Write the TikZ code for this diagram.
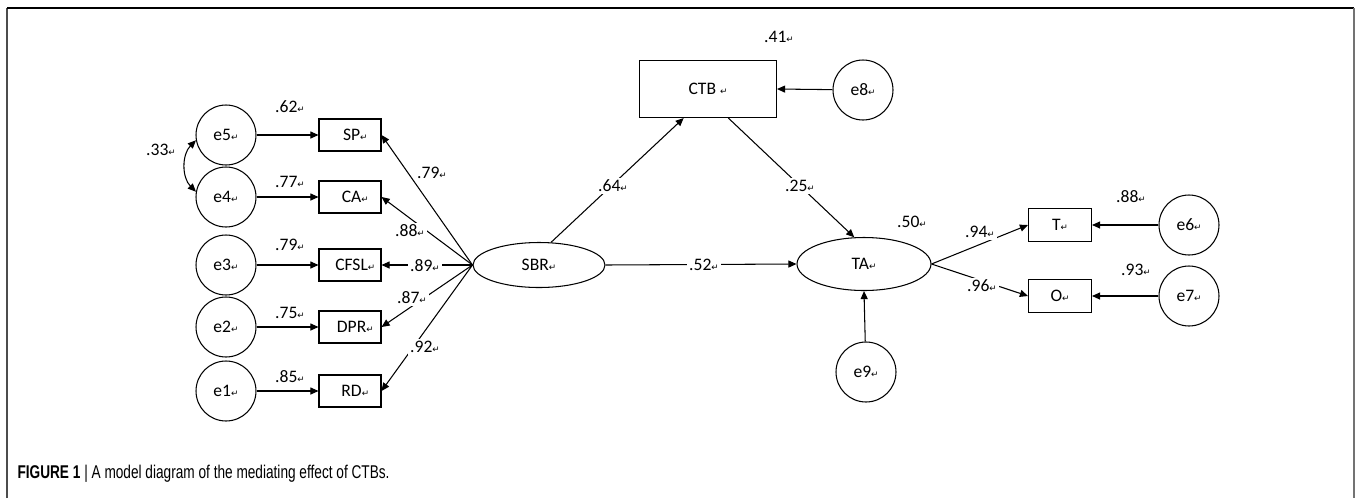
\documentclass[tikz,border=0pt]{standalone}
\usepackage{fontspec}
\setmainfont{Carlito}
\newfontfamily\retfont{DejaVu Sans}
\newfontfamily\capfont[FakeStretch=0.74]{Liberation Sans}
\usetikzlibrary{shapes.geometric, arrows.meta, positioning}
\newcommand{\ret}{{\retfont\fontsize{5}{6}\selectfont ↵}}

\begin{document}
\begin{tikzpicture}[
    x=0.02cm, y=-0.02cm,
    font=\fontsize{10}{12}\selectfont,
    line width=0.6pt,
    err/.style={circle, draw, minimum size=1.2cm, inner sep=0pt},
    obs/.style={rectangle, draw, minimum width=1.24cm, minimum height=0.64cm, inner sep=0pt},
    lat/.style={ellipse, draw, minimum width=2.64cm, minimum height=0.9cm, inner sep=0pt},
    coef/.style={fill=white, inner sep=1pt},
    arrow/.style={-{Triangle[length=4.6pt, width=4pt]}},
    both/.style={{Triangle[length=4.6pt, width=4pt]}-{Triangle[length=4.6pt, width=4pt]}}
]

\useasboundingbox (0,0) rectangle (1357,498);

% Frame
\draw[line width=0.6pt, black!70] (7,498) -- (7,8);
\draw[line width=0.9pt] (7,8) -- (1354,8);
\draw[line width=1.2pt, black!55] (1354,8) -- (1354,498);

% Error terms of indicators
\node[err] (e5) at (226,135) {e5\ret};
\node[err] (e4) at (226,197) {e4\ret};
\node[err] (e3) at (226,265) {e3\ret};
\node[err] (e2) at (226,327) {e2\ret};
\node[err] (e1) at (226,391) {e1\ret};

% Indicators of SBR
\node[obs] (sp) at (350,135) {\hspace{6pt}SP\ret};
\node[obs] (ca) at (350,197) {\hspace{6pt}CA\ret};
\node[obs] (cfsl) at (350,265) {\hspace{6pt}CFSL\ret};
\node[obs] (dpr) at (350,327) {\hspace{6pt}DPR\ret};
\node[obs] (rd) at (350,391) {\hspace{6pt}RD\ret};

% Latent variables
\node[lat] (sbr) at (539,265) {SBR\ret};
\node[lat, minimum width=2.68cm, minimum height=1.06cm] (ta) at (864,264) {TA\ret};
\node[obs, minimum width=2.74cm, minimum height=1.14cm] (ctb) at (708,89) {CTB \ret};

% Mediator and outcome errors
\node[err] (e8) at (863,90) {e8\ret};
\node[err] (e9) at (866,372) {e9\ret};

% Indicators of TA
\node[obs, minimum width=1.26cm, minimum height=0.66cm] (t) at (1060,225) {T\ret};
\node[obs, minimum width=1.26cm, minimum height=0.66cm] (o) at (1060,296) {O\ret};
\node[err] (e6) at (1189,225) {e6\ret};
\node[err] (e7) at (1189,296) {e7\ret};

% Arrows
\draw[arrow] (e5) -- (sp);
\draw[arrow] (e4) -- (ca);
\draw[arrow] (e3) -- (cfsl);
\draw[arrow] (e2) -- (dpr);
\draw[arrow] (e1) -- (rd);
\draw[both] (e5.190) to[bend right=45] (e4.170);

\draw[arrow] (sbr.west) -- (sp.east);
\draw[arrow] (sbr.west) -- (ca.east);
\draw[arrow] (sbr.west) -- (cfsl.east);
\draw[arrow] (sbr.west) -- (dpr.east);
\draw[arrow] (sbr.west) -- (rd.east);

\draw[arrow] (sbr.62) -- (ctb.-130);
\draw[arrow] (ctb.-55) -- (ta.110);
\draw[arrow] (sbr.east) -- (ta.west);
\draw[arrow] (e8) -- (ctb.east);
\draw[arrow] (e9) -- (ta.south);

\draw[arrow] (ta.east) -- (t.west);
\draw[arrow] (ta.east) -- (o.west);
\draw[arrow] (e6) -- (t.east);
\draw[arrow] (e7) -- (o.east);

% Labels
\node (r62) at (290,107) {.62\ret};
\node (r77) at (290,182) {.77\ret};
\node (r79) at (290,245) {.79\ret};
\node (r75) at (290,313) {.75\ret};
\node (r85) at (290,377) {.85\ret};
\node (c33) at (161,150) {.33\ret};

\node[coef] (l79) at (432,173) {.79\ret};
\node[coef] (l88) at (410,231) {.88\ret};
\node[coef] (l89) at (425,266) {.89\ret};
\node[coef] (l87) at (412,298) {.87\ret};
\node[coef] (l92) at (425,347) {.92\ret};

\node[coef] (b64) at (613,186) {.64\ret};
\node[coef] (b25) at (800,186) {.25\ret};
\node[coef] (b52) at (704,265) {.52\ret};
\node (r41) at (779,37) {.41\ret};
\node (r50) at (912,222) {.50\ret};

\node[coef] (l94) at (980,232) {.94\ret};
\node[coef] (l96) at (982,286) {.96\ret};
\node (r88) at (1131,197) {.88\ret};
\node (r93) at (1136,270) {.93\ret};

% Caption
\node[anchor=base west, inner sep=0pt] (caption) at (17,478)
  {\capfont\fontsize{10.5}{12}\selectfont\textbf{FIGURE 1} | A model diagram of the mediating effect of CTBs.};

\end{tikzpicture}
\end{document}
